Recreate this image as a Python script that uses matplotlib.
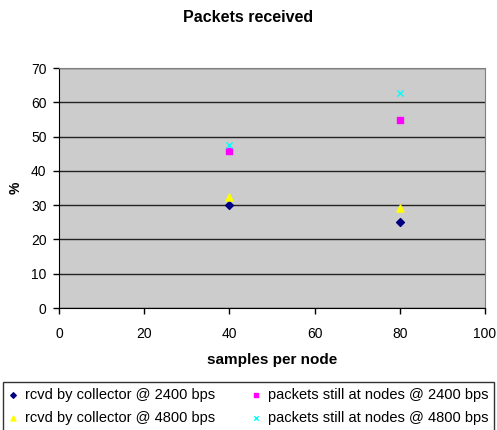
import matplotlib
matplotlib.use("Agg")
import matplotlib.pyplot as plt

# data
samples = [40, 80]
rcvd_2400 = [30, 25]
rcvd_4800 = [32.5, 29.3]
still_2400 = [45.9, 54.7]
still_4800 = [47.6, 62.6]

plt.rcParams["font.family"] = ["Liberation Sans", "DejaVu Sans"]

fig = plt.figure(figsize=(4.97, 4.30), dpi=100)
ax = fig.add_axes([59 / 497, 1 - 308 / 430, 426 / 497, 240 / 430])
ax.set_facecolor("#CCCCCC")

ax.scatter(samples, rcvd_2400, marker="D", s=16, color="#000080", label="rcvd by collector @ 2400 bps", zorder=3)
ax.scatter(samples, rcvd_4800, marker="^", s=26, color="#FFFF00", label="rcvd by collector @ 4800 bps", zorder=3)
ax.scatter(samples, still_2400, marker="s", s=24, color="#FF00FF", label="packets still at nodes @ 2400 bps", zorder=3)
ax.scatter(samples, still_4800, marker="x", s=20, linewidths=1, color="#00FFFF", label="packets still at nodes @ 4800 bps", zorder=3)

ax.set_xlim(0, 100)
ax.set_ylim(0, 70)
ax.set_xticks(range(0, 101, 20))
ax.set_yticks(range(0, 71, 10))
ax.yaxis.grid(True, color="#222222", linewidth=1)
ax.set_axisbelow(True)
for s in ["top", "right"]:
    ax.spines[s].set_color("#808080")
for s in ["left", "bottom"]:
    ax.spines[s].set_color("black")
ax.tick_params(direction="out", length=4, width=1, labelsize=10)
ax.tick_params(axis="x", pad=10)
ax.tick_params(axis="y", pad=5)

ax.set_xlabel("samples per node", fontsize=11, fontweight="bold", labelpad=8)
ax.set_ylabel("%", fontsize=10, fontweight="bold", labelpad=6)
fig.text(0.5, 1 - 18 / 430, "Packets received", ha="center", va="center", fontsize=11.5, fontweight="bold")

leg = fig.legend(loc="upper left", bbox_to_anchor=(3 / 497, 1 - 382 / 430, 491 / 497, 0), mode="expand",
                 ncol=2, fontsize=10.5, frameon=True, fancybox=False, edgecolor="black",
                 handlelength=0.6, handletextpad=0.5, borderpad=0.4, labelspacing=0.65,
                 markerscale=0.7, borderaxespad=0)
leg.get_frame().set_linewidth(1)

fig.savefig("out.png", dpi=100)
